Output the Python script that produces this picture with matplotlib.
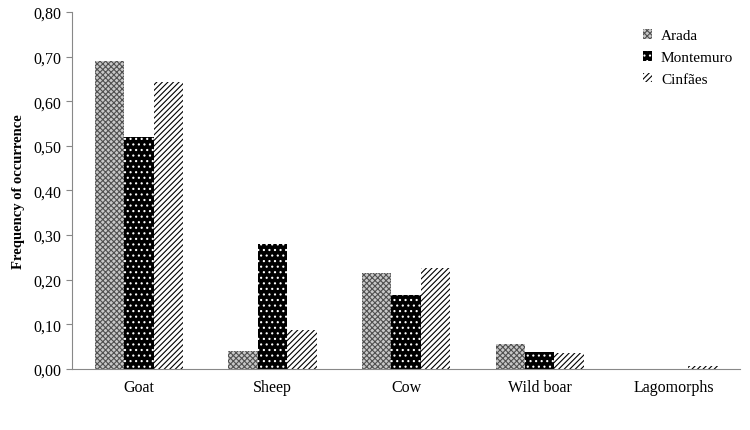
import numpy as np
import matplotlib.pyplot as plt
from matplotlib.ticker import FuncFormatter

plt.rcParams['font.family'] = ['Liberation Serif', 'DejaVu Serif']
plt.rcParams['hatch.linewidth'] = 0.8

# dados
categories = ["Goat", "Sheep", "Cow", "Wild boar", "Lagomorphs"]
sites = ["Arada", "Montemuro", "Cinfães"]
arada = [0.69, 0.04, 0.215, 0.055, 0.0]
montemuro = [0.52, 0.28, 0.165, 0.037, 0.0]
cinfaes = [0.643, 0.087, 0.226, 0.035, 0.007]

fig = plt.figure(figsize=(7.5, 4.31), dpi=100)
ax = fig.add_axes([0.096, 0.142, 0.891, 0.828])

x = np.arange(len(categories))
w = 0.22

ax.bar(x - w, arada, w, facecolor='#c8c8c8', edgecolor='#505050', hatch='xxxxxx', linewidth=0, label=sites[0])
ax.bar(x, montemuro, w, facecolor='black', edgecolor='white', hatch='...', linewidth=0, label=sites[1])
ax.bar(x + w, cinfaes, w, facecolor='white', edgecolor='black', hatch='//////', linewidth=0, label=sites[2])

ax.set_ylim(0, 0.8)
ax.set_yticks(np.arange(0, 0.81, 0.1))
ax.yaxis.set_major_formatter(FuncFormatter(lambda v, p: f"{v:.2f}".replace('.', ',')))
ax.set_xlim(-0.5, len(categories) - 0.5)
ax.set_xticks(x)
ax.set_xticklabels(categories)
ax.tick_params(axis='x', length=0, labelsize=11.5, pad=7)
ax.tick_params(axis='y', length=4, color='#888888', labelsize=11.5)

for s in ['top', 'right']:
    ax.spines[s].set_visible(False)
for s in ['left', 'bottom']:
    ax.spines[s].set_color('#888888')

ax.set_ylabel("Frequency of occurrence", fontweight='bold', fontsize=10.5, labelpad=6)

leg = ax.legend(loc='upper right', frameon=False, fontsize=11, handlelength=0.6,
                handleheight=0.6, handletextpad=0.6, labelspacing=0.55,
                bbox_to_anchor=(1.01, 0.99))

plt.savefig("out.png", dpi=100)
